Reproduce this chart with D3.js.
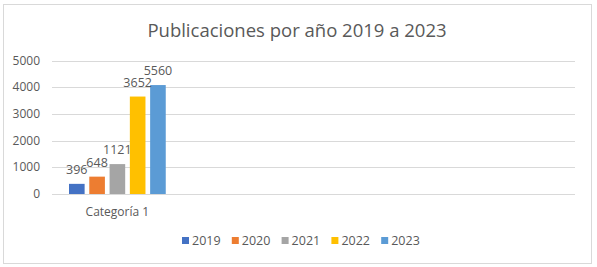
<!DOCTYPE html>
<html>
<head>
<meta charset="utf-8">
<script src="https://cdn.jsdelivr.net/npm/d3@7"></script>
<style>
  body { margin: 0; background: #fff; }
  text { font-family: "Open Sans", "Liberation Sans", sans-serif; fill: #595959; }
</style>
</head>
<body>
<div id="chart"></div>
<script>
const categories = ["Categoría 1", "", "", ""];
const years = ["2019", "2020", "2021", "2022", "2023"];
// bar heights as drawn in the picture, and the labels printed on them
const barValues = [380, 650, 1120, 3650, 4080];
const barLabels = ["396", "648", "1121", "3652", "5560"];
const yTicks = [0, 1000, 2000, 3000, 4000, 5000];
const colors = ["#4472C4", "#ED7D31", "#A5A5A5", "#FFC000", "#5B9BD5"];

const W = 597, H = 267;

const svg = d3.select("#chart")
  .append("svg")
  .attr("width", W)
  .attr("height", H);

// chart frame
svg.append("rect")
  .attr("x", 3.5).attr("y", 4.5)
  .attr("width", 588).attr("height", 259)
  .attr("fill", "#fff")
  .attr("stroke", "#d9d9d9");

svg.append("text")
  .attr("x", 297)
  .attr("y", 37)
  .attr("text-anchor", "middle")
  .style("font-size", "18.5px")
  .text("Publicaciones por año 2019 a 2023");

const x0 = d3.scaleBand()
  .domain(d3.range(categories.length))
  .range([52, 575]);

const x1 = d3.scaleBand()
  .domain(years)
  .range([17, x0.bandwidth() - 17])
  .paddingInner(0.23);

const y = d3.scaleLinear()
  .domain([0, 5000])
  .range([194, 60.5]);

const color = d3.scaleOrdinal().domain(years).range(colors);

// gridlines
svg.append("g")
  .selectAll("line")
  .data(yTicks)
  .enter().append("line")
  .attr("x1", 52).attr("x2", 575)
  .attr("y1", d => Math.round(y(d)) + 0.5)
  .attr("y2", d => Math.round(y(d)) + 0.5)
  .attr("stroke", "#d9d9d9");

// y labels
svg.append("g")
  .selectAll("text")
  .data(yTicks)
  .enter().append("text")
  .attr("x", 40)
  .attr("y", d => y(d) + 4)
  .attr("text-anchor", "end")
  .style("font-size", "12px")
  .text(d => d);

// category labels
svg.append("g")
  .selectAll("text")
  .data(categories)
  .enter().append("text")
  .attr("x", (d, i) => x0(i) + x0.bandwidth() / 2)
  .attr("y", 216)
  .attr("text-anchor", "middle")
  .style("font-size", "12px")
  .text(d => d);

const group = svg.append("g")
  .attr("transform", `translate(${x0(0)},0)`);

group.selectAll("rect")
  .data(years)
  .enter().append("rect")
  .attr("x", d => x1(d))
  .attr("y", (d, i) => y(barValues[i]))
  .attr("width", x1.bandwidth())
  .attr("height", (d, i) => y(0) - y(barValues[i]))
  .attr("fill", d => color(d));

group.selectAll("text.lbl")
  .data(years)
  .enter().append("text")
  .attr("class", "lbl")
  .attr("x", d => x1(d) + x1.bandwidth() / 2)
  .attr("y", (d, i) => y(barValues[i]) - 10)
  .attr("text-anchor", "middle")
  .style("font-size", "12.5px")
  .text((d, i) => barLabels[i]);

// legend
const legend = svg.append("g")
  .attr("transform", "translate(182, 241)");

years.forEach((yr, i) => {
  const row = legend.append("g")
    .attr("transform", `translate(${i * 49.8}, 0)`);
  row.append("rect")
    .attr("x", 0).attr("y", -4)
    .attr("width", 7).attr("height", 7)
    .attr("fill", color(yr));
  row.append("text")
    .attr("x", 10)
    .attr("y", 4)
    .style("font-size", "12.5px")
    .text(yr);
});
</script>
</body>
</html>
